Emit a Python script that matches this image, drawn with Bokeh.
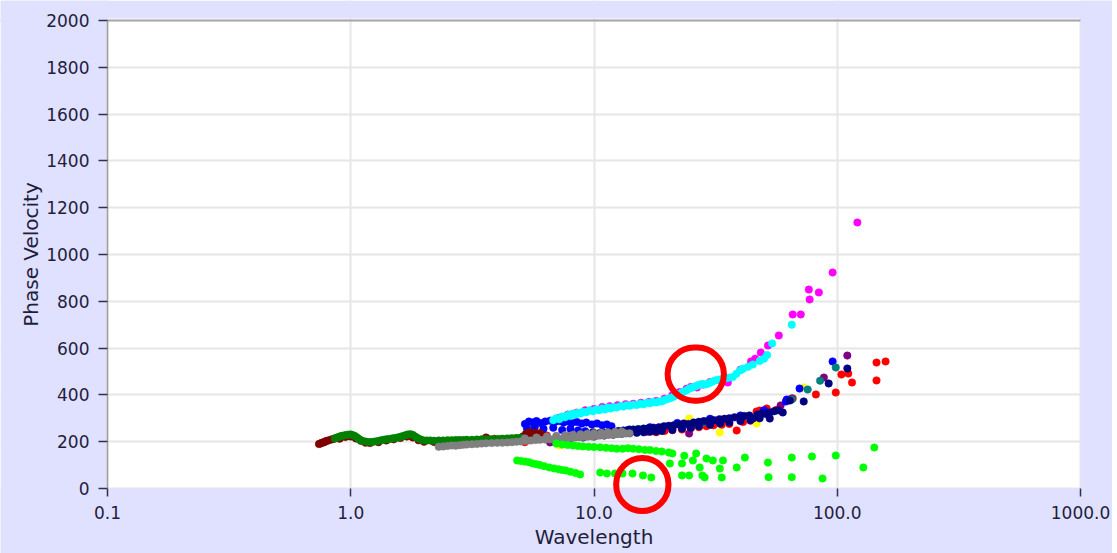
import math
from bokeh.plotting import figure
from bokeh.models import FixedTicker, PrintfTickFormatter, Span, Label, BoxAnnotation
from bokeh.embed import file_html
from bokeh.resources import INLINE

# ---------------- data ----------------
maroon_x = [0.74, 0.75, 0.76, 0.77, 0.78, 0.79, 0.80, 0.82, 0.84, 0.86,
            0.90, 0.95, 1.00, 1.05, 1.10, 1.15, 1.20, 1.30, 1.40, 1.50,
            1.60, 1.70, 1.80, 1.90, 2.00, 2.20, 2.40, 2.60, 2.80, 3.00,
            3.30, 3.60, 3.90, 4.20, 4.50, 4.80, 5.10, 5.25, 5.40, 5.55,
            5.70, 5.85, 6.00, 6.15]
maroon_y = [190, 192, 195, 197, 199, 202, 204, 207, 211, 214,
            213, 220, 222, 214, 204, 196, 194, 198, 205, 210,
            216, 222, 218, 206, 200, 199, 200, 201, 203, 204,
            206, 218, 212, 210, 212, 214, 222, 234, 240, 230,
            238, 228, 236, 226]

green_x = [0.86, 0.88, 0.90, 0.92, 0.94, 0.96, 0.98, 1.00, 1.02, 1.04,
           1.06, 1.08, 1.10, 1.13, 1.16, 1.20, 1.24, 1.28, 1.32, 1.36,
           1.40, 1.44, 1.48, 1.52, 1.56, 1.60, 1.64, 1.68, 1.72, 1.76,
           1.80, 1.84, 1.88, 1.93, 1.98, 2.05, 2.12, 2.20, 2.30, 2.40,
           2.50, 2.60, 2.70, 2.80, 2.90, 3.00, 3.15, 3.30, 3.45, 3.60,
           3.75, 3.90, 4.05, 4.20, 4.40, 4.60, 4.80, 5.00]
green_y = [214, 218, 222, 225, 227, 229, 230, 231, 228, 224,
           218, 212, 206, 202, 200, 199, 200, 202, 205, 208,
           210, 212, 214, 216, 218, 221, 224, 228, 231, 232,
           229, 222, 216, 210, 206, 205, 205, 204, 205, 205,
           206, 206, 207, 207, 207, 208, 208, 209, 210, 210,
           211, 211, 212, 213, 214, 215, 216, 217]

gray_x = [2.30, 2.40, 2.50, 2.60, 2.70, 2.80, 2.90, 3.00, 3.15, 3.30,
          3.45, 3.60, 3.80, 4.00, 4.20, 4.40, 4.60, 4.80, 5.00, 5.25,
          5.50, 5.75, 6.00, 6.30, 6.60, 6.90, 7.20, 7.50, 7.80, 8.10,
          8.40, 8.70, 9.00, 9.40, 9.80, 10.2, 10.6, 11.0, 11.5, 12.0,
          12.5, 13.0, 13.5, 14.0,
          5.2, 5.8, 6.4, 7.0, 7.6, 8.2, 8.8, 9.4, 10.0, 10.7, 11.4, 12.2, 13.0]
gray_y = [178, 180, 182, 184, 183, 185, 187, 188, 189, 190,
          192, 193, 194, 195, 196, 197, 198, 200, 201, 203,
          205, 207, 208, 209, 210, 212, 213, 214, 215, 216,
          218, 219, 220, 221, 222, 224, 226, 228, 229, 231,
          232, 234, 235, 236,
          214, 218, 222, 225, 228, 230, 232, 234, 236, 238, 240, 242, 244]

blue_x = [5.2, 5.4, 5.6, 5.8, 6.0, 6.3, 6.6, 6.9, 7.2, 7.5,
          7.8, 8.1, 8.5, 8.9, 9.3, 9.8, 10.3, 10.8, 11.3, 11.8,
          5.3, 5.7, 6.2, 6.8, 7.4, 8.0, 8.6, 9.2, 9.9, 10.6, 11.4,
          14.0, 17.0, 22.0, 30.0, 40.0, 50.0, 61.5, 62.0, 70.0, 95.7]
blue_y = [276, 286, 282, 288, 280, 286, 290, 284, 288, 282,
          287, 280, 284, 278, 282, 274, 278, 270, 274, 266,
          258, 262, 255, 260, 250, 255, 248, 245, 240, 238, 240,
          252, 262, 280, 298, 312, 334, 372, 380, 427, 543]

cyan_x = [6.8, 7.0, 7.2, 7.4, 7.6, 7.8, 8.0, 8.2, 8.4, 8.6,
          8.8, 9.0, 9.3, 9.6, 9.9, 10.2, 10.5, 10.8, 11.1, 11.4,
          11.7, 12.0, 12.4, 12.8, 13.2, 13.6, 14.0, 14.5, 15.0, 15.5,
          16.0, 16.5, 17.0, 17.5, 18.0, 18.5, 19.0, 19.5, 20.0, 20.6,
          21.2, 21.8, 22.4, 23.0, 23.6, 24.2, 24.8, 25.4, 26.0, 26.6,
          27.2, 27.8, 28.4, 29.0, 29.7, 30.4, 31.2, 32.0, 33.0, 34.0,
          35.0, 36.0, 37.2, 38.5, 40.0, 41.0, 43.0, 45.0, 48.0, 50.0,
          51.5, 54.0, 65.0]
cyan_y = [292, 300, 296, 308, 304, 314, 310, 320, 316, 324,
          320, 328, 326, 334, 330, 338, 334, 342, 338, 346,
          342, 348, 346, 352, 350, 356, 354, 358, 357, 362,
          360, 366, 364, 370, 368, 372, 372, 378, 382, 386,
          392, 398, 404, 410, 416, 422, 428, 432, 436, 440,
          444, 446, 444, 446, 450, 455, 460, 464, 466, 470,
          472, 474, 476, 490, 505, 512, 520, 530, 545, 555,
          570, 620, 700]

magenta_x = [7.2, 7.8, 8.5, 9.2, 10.0, 10.8, 11.6, 12.5, 13.5, 14.5,
             15.6, 16.8, 18.0, 19.5, 21.0, 22.5, 24.0, 25.0, 26.5, 28.0,
             30.0, 33.0, 35.5, 40.0, 44.2, 46.0, 48.5, 51.9, 57.5, 65.6,
             70.8, 76.4, 77.0, 84.0, 95.7, 121.0]
magenta_y = [302, 316, 324, 334, 340, 348, 352, 356, 360, 362,
             366, 370, 374, 384, 398, 412, 426, 434, 432, 444,
             455, 462, 453, 508, 543, 555, 581, 611, 654, 744,
             744, 850, 808, 838, 923, 1137]

navy_x = [7.2, 7.6, 8.0, 8.4, 8.8, 9.2, 9.6, 10.0, 10.5, 11.0,
          11.5, 12.0, 12.6, 13.2, 13.8, 14.5, 15.2, 16.0, 16.8, 17.6,
          18.5, 19.4, 20.3, 21.3, 22.3, 23.4, 24.5, 25.7, 27.0, 28.3,
          29.7, 31.2, 32.8, 34.4, 36.0, 37.8, 39.6, 41.5, 43.5, 45.0,
          47.0, 49.0, 51.0, 52.8, 55.0, 57.0, 59.7, 63.8, 72.8, 92.2,
          110.0,
          9.0, 10.0, 11.0, 12.0, 13.0, 14.0, 15.0, 16.0, 17.0, 18.0,
          19.0, 21.0, 23.0, 25.0, 27.0, 30.0, 33.0, 36.0, 40.0, 44.0,
          48.0, 52.8]
navy_y = [205, 212, 214, 220, 222, 226, 228, 232, 234, 238,
          240, 244, 246, 248, 250, 252, 254, 256, 258, 260,
          262, 266, 268, 270, 274, 278, 276, 282, 285, 288,
          290, 292, 296, 298, 300, 304, 306, 310, 312, 299,
          316, 320, 318, 325, 330, 334, 325, 376, 372, 449,
          513,
          218, 222, 226, 230, 234, 236, 238, 240, 242, 244,
          246, 250, 256, 260, 266, 272, 278, 282, 288, 292,
          300, 299]

red_x = [5.2, 5.4, 5.8, 6.4, 7.0, 7.8, 8.6, 9.5, 10.5, 11.5,
         12.5, 13.5, 15.0, 16.5, 18.0, 19.5, 21.0, 23.0, 25.0, 27.0,
         29.0, 31.0, 33.5, 36.0, 38.6, 41.0, 44.0, 46.6, 48.1, 51.3,
         56.0, 65.6, 81.7, 98.6, 104.0, 111.0, 115.0, 145.0, 145.0, 158.0]
red_y = [198, 236, 232, 226, 218, 222, 226, 224, 228, 232,
         236, 238, 240, 242, 240, 246, 250, 252, 258, 262,
         266, 270, 272, 276, 248, 284, 290, 329, 333, 342,
         335, 385, 402, 410, 487, 491, 453, 538, 462, 543]

teal_x = [14.0, 16.0, 18.5, 21.0, 23.5, 26.0, 28.0, 30.0, 33.0, 36.0,
          40.0, 44.0, 47.6, 65.0, 75.6, 85.0, 98.6]
teal_y = [240, 252, 258, 266, 270, 276, 282, 284, 292, 296,
          302, 305, 303, 380, 423, 461, 517]

yellow_x = [5.6, 5.73, 7.05, 7.24, 9.9, 24.6, 24.6, 32.9, 46.6, 72.8]
yellow_y = [260, 256, 192, 184, 248, 290, 299, 239, 278, 432]

purple_x = [6.6, 24.6, 58.5, 65.0, 88.1, 110.0]
purple_y = [197, 235, 355, 385, 474, 568]

lime_x = [4.83, 5.0, 5.2, 5.4, 5.6, 5.8, 6.0, 6.25, 6.55, 6.85,
          7.15, 7.4, 7.66, 8.0, 8.4, 8.77,
          10.6, 11.3, 12.2, 13.1, 14.4, 15.9, 17.2,
          7.0, 7.4, 7.8, 8.2, 8.6, 9.0, 9.5, 10.0, 10.6, 11.2,
          11.8, 12.4, 13.1, 13.8, 14.5, 15.3, 16.2, 17.0, 18.0, 19.0,
          20.3, 21.0,
          20.5, 23.0, 26.3, 29.0, 30.8, 27.2, 27.9, 23.0, 24.6, 32.9,
          33.9, 38.6, 41.7, 33.5, 51.9, 52.2, 65.0, 65.0, 25.5, 78.7,
          87.0, 98.6, 128.0, 142.0, 23.5, 28.5]
lime_y = [120, 118, 115, 112, 107, 104, 100, 95, 90, 86,
          82, 79, 77, 72, 66, 60,
          68, 64, 64, 64, 64, 56, 47,
          192, 188, 186, 184, 182, 180, 178, 177, 176, 174,
          172, 170, 170, 172, 170, 168, 165, 164, 160, 158,
          154, 150,
          107, 107, 150, 128, 120, 90, 56, 56, 56, 85,
          120, 90, 132, 47, 111, 48, 132, 48, 120, 137,
          43, 141, 90, 175, 140, 47]

# red ring call-outs (centres in data units)
callout_x = [26.2, 15.8]
callout_y = [489, 17]

x_ticks = [0.1, 1, 10, 100, 1000]
y_ticks = [0, 200, 400, 600, 800, 1000, 1200, 1400, 1600, 1800, 2000]
x_lo, x_hi = 0.1, 1000
y_lo, y_hi = 0, 2000

# ---------------- layout ----------------
W, H = 1112, 553
PLOT_L, PLOT_R, PLOT_T, PLOT_B = 107, 1080, 20, 488   # plot-area edges in px

LAV = "#E0E0FF"
TXT = "#1E1E3C"
FONT = "DejaVu Sans"

# The frame fills the whole canvas so that nothing (ring, tick labels) is
# clipped; the area outside the data window is painted in the border colour
# and the axes are pinned to the window edges.
dec_px = (PLOT_R - PLOT_L) / (math.log10(x_hi) - math.log10(x_lo))
xr0 = 10 ** (math.log10(x_lo) - PLOT_L / dec_px)
xr1 = 10 ** (math.log10(x_hi) + (W - PLOT_R) / dec_px)
upp = (y_hi - y_lo) / (PLOT_B - PLOT_T)
yr0 = y_lo - (H - PLOT_B) * upp
yr1 = y_hi + PLOT_T * upp

p = figure(width=W, height=H, x_axis_type="log",
           x_range=(xr0, xr1), y_range=(yr0, yr1),
           output_backend="svg", toolbar_location=None, min_border=0)
p.border_fill_color = LAV
p.background_fill_color = "white"
p.outline_line_color = None

# axes pinned to the data window
p.xaxis.fixed_location = y_lo
p.yaxis.fixed_location = x_lo
p.xaxis.ticker = FixedTicker(ticks=x_ticks)
p.xaxis.formatter = PrintfTickFormatter(format="%.1f")
p.yaxis.ticker = FixedTicker(ticks=y_ticks)
p.yaxis.bounds = (y_lo, y_hi)
p.xaxis.bounds = (x_lo, x_hi)
for ax in (p.xaxis, p.yaxis):
    ax.major_label_text_font = FONT
    ax.major_label_text_font_size = "17px"
    ax.major_label_text_color = TXT
    ax.minor_tick_line_color = None
    ax.major_tick_in = 0
    ax.major_tick_line_color = "#303050"
    ax.major_tick_line_width = 1.5
p.xaxis.axis_line_color = None
p.xaxis.major_tick_out = 8
p.xaxis.major_label_standoff = 9
p.yaxis.axis_line_color = "#A0A0A0"
p.yaxis.axis_line_width = 1.5
p.yaxis.major_tick_out = 9
p.yaxis.major_label_standoff = 9

p.xgrid.ticker = FixedTicker(ticks=x_ticks)
p.ygrid.ticker = FixedTicker(ticks=y_ticks)
p.grid.grid_line_color = "#E6E6E6"
p.grid.grid_line_width = 2

# top border of the plot area
p.add_layout(Span(location=y_hi, dimension="width", line_color="#A8A8A8",
                  line_width=2, level="underlay"))

# paint everything outside the data window in the border colour
pad = 2 * upp
for kw in (dict(top=y_lo), dict(bottom=y_hi + pad), dict(right=x_lo), dict(left=x_hi)):
    p.add_layout(BoxAnnotation(fill_color=LAV, fill_alpha=1.0, line_color=None,
                               level="glyph", **kw))

S = 7.5
series = [
    (magenta_x, magenta_y, "#FF00FF"),
    (red_x, red_y, "#FF0000"),
    (yellow_x, yellow_y, "#FFFF00"),
    (purple_x, purple_y, "#800080"),
    (blue_x, blue_y, "#0000FF"),
    (maroon_x, maroon_y, "#800000"),
    (green_x, green_y, "#008000"),
    (teal_x, teal_y, "#008080"),
    (navy_x, navy_y, "#000080"),
    (gray_x, gray_y, "#808080"),
    (cyan_x, cyan_y, "#00FFFF"),
    (lime_x, lime_y, "#00FF00"),
]
for xs, ys, c in series:
    p.scatter(xs, ys, size=S, fill_color=c, line_color=c, line_width=0.5)

# axis titles (placed in the border, centred on the data window)
x_mid = 10 ** ((math.log10(x_lo) + math.log10(x_hi)) / 2)
y_mid = (y_lo + y_hi) / 2
p.add_layout(Label(x=x_mid, y=y_lo - 48 * upp, text="Wavelength",
                   text_font=FONT, text_font_size="20px", text_color=TXT,
                   text_align="center", text_baseline="middle"))
p.add_layout(Label(x=10 ** (math.log10(x_lo) - 77 / dec_px), y=y_mid,
                   text="Phase Velocity", angle=90, angle_units="deg",
                   text_font=FONT, text_font_size="20px", text_color=TXT,
                   text_align="center", text_baseline="middle"))

# red rings drawn as round-cornered empty labels
ring_pad = [(28, 26), (26, 26)]
for cx, cy, rp in zip(callout_x, callout_y, ring_pad):
    p.add_layout(Label(x=cx, y=cy, text=" ", text_font_size="1px",
                       text_align="center", text_baseline="middle",
                       padding=rp, border_radius=30,
                       border_line_color="#FF0000", border_line_width=6,
                       background_fill_color=None))

open("out.html", "w").write(file_html(p, INLINE))
